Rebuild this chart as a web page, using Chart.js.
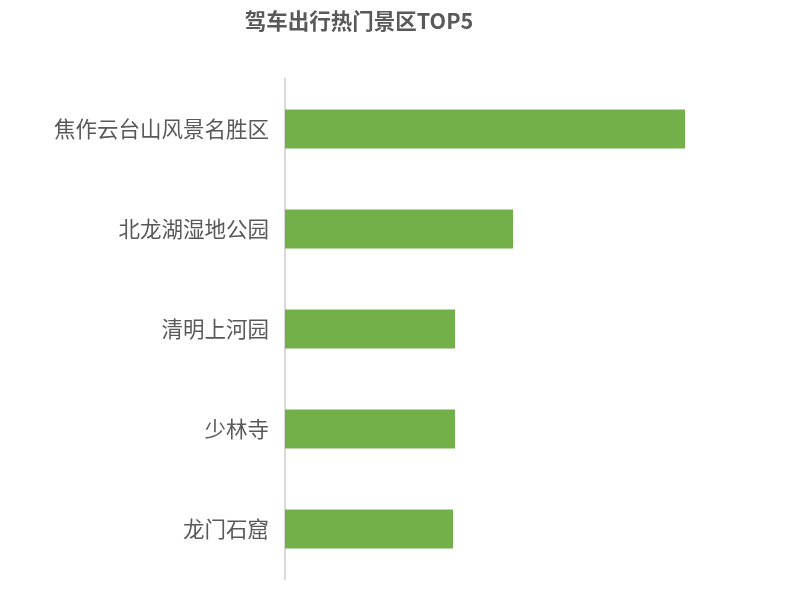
<!DOCTYPE html>
<html>
<head>
<meta charset="utf-8">
<script src="https://cdn.jsdelivr.net/npm/chart.js@4.4.0/dist/chart.umd.min.js"></script>
<style>
  html, body { margin: 0; padding: 0; background: #fff; overflow: hidden; }
  #wrap { width: 790px; height: 601px; position: relative; }
</style>
</head>
<body>
<div id="wrap"><canvas id="spotChart"></canvas></div>
<script>
// 驾车出行热门景区 TOP5
const chartTitle = "驾车出行热门景区TOP5";
const spots = ["焦作云台山风景名胜区", "北龙湖湿地公园", "清明上河园", "少林寺", "龙门石窟"];
const visits = [400, 228, 170, 170, 168];

const fontFamily = "'Noto Sans CJK SC', 'Noto Sans', sans-serif";

// title is drawn slightly left of the canvas centre, as in the original
const titlePlugin = {
  id: "offsetTitle",
  afterDraw(chart) {
    const ctx = chart.ctx;
    ctx.save();
    ctx.font = "bold 21.5px " + fontFamily;
    ctx.fillStyle = "#595959";
    ctx.textAlign = "center";
    ctx.textBaseline = "middle";
    ctx.fillText(chartTitle, 359, 21);
    ctx.restore();
  },
};

new Chart(document.getElementById("spotChart"), {
  type: "bar",
  data: {
    labels: spots,
    datasets: [
      {
        data: visits,
        backgroundColor: "#74B04A",
        borderWidth: 0,
        categoryPercentage: 1,
        barPercentage: 0.39,
      },
    ],
  },
  options: {
    indexAxis: "y",
    responsive: true,
    maintainAspectRatio: false,
    animation: false,
    layout: { padding: { top: 79, bottom: 22, left: 0, right: 25 } },
    plugins: {
      legend: { display: false },
      tooltip: { enabled: false },
    },
    scales: {
      x: { display: false, min: 0, max: 480 },
      y: {
        afterFit(scale) {
          scale.width = 285;
          scale.paddingTop = 0;
          scale.paddingBottom = 0;
        },
        grid: { display: false, drawTicks: false },
        border: { color: "#d9d9d9", width: 2 },
        ticks: {
          color: "#595959",
          padding: 16,
          font: { size: 21.5, family: fontFamily },
        },
      },
    },
  },
  plugins: [titlePlugin],
});
</script>
</body>
</html>
